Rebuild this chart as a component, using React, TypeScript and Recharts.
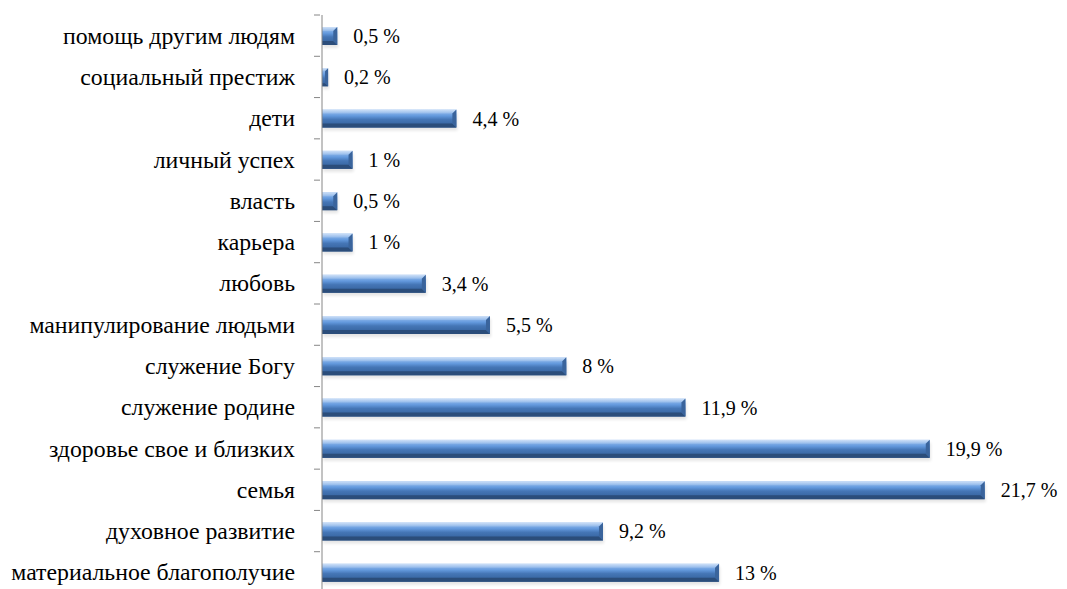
import React from "react";
import { BarChart, Bar, XAxis, YAxis, LabelList } from "recharts";

const categories = [
  "помощь другим людям",
  "социальный престиж",
  "дети",
  "личный успех",
  "власть",
  "карьера",
  "любовь",
  "манипулирование людьми",
  "служение Богу",
  "служение родине",
  "здоровье свое и близких",
  "семья",
  "духовное развитие",
  "материальное благополучие",
];

const percents = [0.5, 0.2, 4.4, 1, 0.5, 1, 3.4, 5.5, 8, 11.9, 19.9, 21.7, 9.2, 13];

const data = categories.map((name, i) => ({ name, value: percents[i] }));

const W = 1067;
const H = 600;
const margin = { top: 15, right: 12, bottom: 7, left: 0 };
const band = (H - margin.top - margin.bottom) / categories.length;
const SERIF = "'Liberation Serif', 'Times New Roman', serif";

const CategoryTick = (props: any) => {
  const { x, y, payload, index } = props;
  const axisX = x + 6;
  return (
    <g>
      <line x1={axisX - 6} x2={axisX} y1={y - band / 2} y2={y - band / 2} stroke="#868686" strokeWidth={1} />
      {index === categories.length - 1 && (
        <line x1={axisX - 6} x2={axisX} y1={y + band / 2} y2={y + band / 2} stroke="#868686" strokeWidth={1} />
      )}
      <text
        x={axisX - 25}
        y={y}
        dy={8}
        textAnchor="end"
        style={{ fontFamily: SERIF, fontSize: 23.8 }}
        fill="#000"
      >
        {payload.value}
      </text>
    </g>
  );
};

const Bar3D = (props: any) => {
  const { x, y, width, height } = props;
  if (!width || width <= 0) return null;
  const b = Math.min(4, width / 2);
  const r = x + width;
  const bot = y + height;
  return (
    <g>
      <rect x={x + 1} y={y + 3} width={width} height={height} fill="#000" opacity={0.1} filter="url(#barShadow)" />
      <rect x={x} y={y} width={width} height={height} fill="url(#barFace)" />
      <polygon points={`${x},${y} ${r},${y} ${r - b},${y + b} ${x},${y + b}`} fill="url(#barTop)" />
      <polygon points={`${x},${bot} ${r},${bot} ${r - b},${bot - b} ${x},${bot - b}`} fill="#2b4d7a" />
      <polygon points={`${r},${y} ${r},${bot} ${r - b},${bot - b} ${r - b},${y + b}`} fill="#3a649c" />
    </g>
  );
};

const ValueLabel = (props: any) => {
  const { x, y, width, height, value } = props;
  return (
    <text
      x={x + width + 16}
      y={y + height / 2}
      dy={7}
      style={{ fontFamily: SERIF, fontSize: 20 }}
      fill="#000"
    >
      {String(value).replace(".", ",") + " %"}
    </text>
  );
};

export default function App() {
  return (
    <div style={{ width: W, height: 589, overflow: "hidden", background: "#fff" }}>
      <style>{"body{margin:0}"}</style>
      <BarChart width={W} height={H} data={data} layout="vertical" margin={margin} barSize={18}>
        <defs>
          <linearGradient id="barFace" x1="0" y1="0" x2="0" y2="1">
            <stop offset="0%" stopColor="#a9c9f2" />
            <stop offset="35%" stopColor="#6399dd" />
            <stop offset="55%" stopColor="#4576b6" />
            <stop offset="100%" stopColor="#315d96" />
          </linearGradient>
          <linearGradient id="barTop" x1="0" y1="0" x2="0" y2="1">
            <stop offset="0%" stopColor="#cfe1f8" />
            <stop offset="100%" stopColor="#92b9ea" />
          </linearGradient>
          <filter id="barShadow" x="-5%" y="-50%" width="110%" height="200%">
            <feGaussianBlur stdDeviation="1.5" />
          </filter>
        </defs>
        <XAxis type="number" domain={[0, 24]} hide />
        <YAxis
          type="category"
          dataKey="name"
          width={322}
          axisLine={{ stroke: "#868686", strokeWidth: 1 }}
          tickLine={false}
          tick={<CategoryTick />}
          interval={0}
        />
        <Bar dataKey="value" shape={<Bar3D />} isAnimationActive={false}>
          <LabelList dataKey="value" content={<ValueLabel />} />
        </Bar>
      </BarChart>
    </div>
  );
}
